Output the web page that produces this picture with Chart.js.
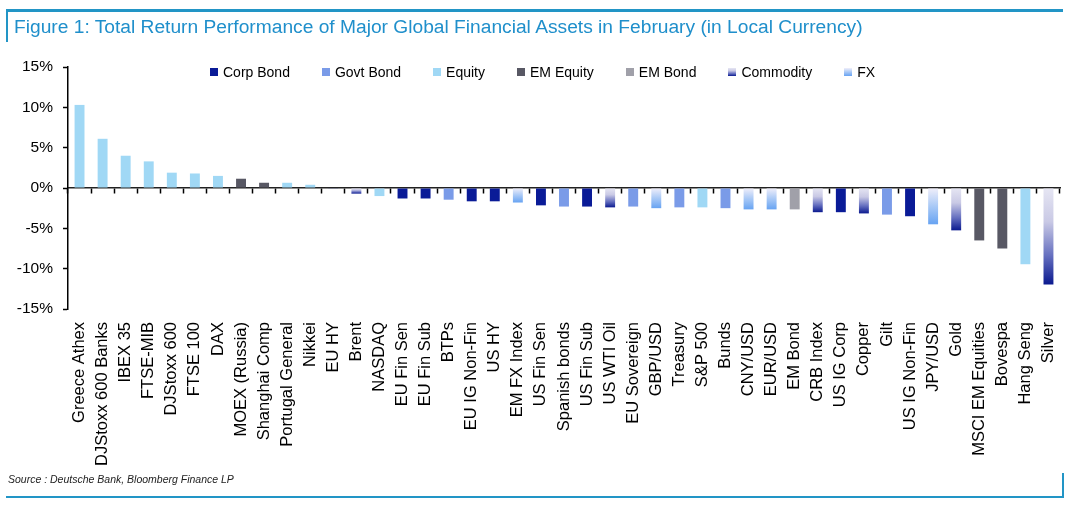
<!DOCTYPE html>
<html>
<head>
<meta charset="utf-8">
<script src="https://cdn.jsdelivr.net/npm/chart.js@4/dist/chart.umd.min.js"></script>
<style>
  body { margin: 0; background: #fff; font-family: "Liberation Sans", Arial, sans-serif; }
  #wrap { position: relative; width: 1078px; height: 506px; overflow: hidden; }
  #myChart { position: absolute; left: 0; top: 0; }
  .line { position: absolute; background: #2295c6; }
  #title { position: absolute; left: 14px; top: 16px; font-size: 19.2px; line-height: 22px; color: #1f8fcb; white-space: nowrap; }
  #source { position: absolute; left: 8px; top: 473px; font-size: 10.5px; line-height: 12px; font-style: italic; color: #222; }
  #legend { position: absolute; left: 210px; top: 63px; display: flex; gap: 32px; font-size: 14px; line-height: 18px; color: #000; }
  #legend span.item { display: flex; align-items: center; }
  #legend span.box { display: inline-block; width: 8px; height: 8px; margin-right: 5px; }
</style>
</head>
<body>
<div id="wrap">
  <canvas id="myChart" width="1078" height="506"></canvas>
  <div class="line" style="left:6px;top:9px;width:1057px;height:2.5px"></div>
  <div class="line" style="left:6px;top:9px;width:2px;height:33px"></div>
  <div class="line" style="left:6px;top:495.5px;width:1058px;height:2.5px"></div>
  <div class="line" style="left:1062px;top:473px;width:2px;height:25px"></div>
  <div id="title">Figure 1: Total Return Performance of Major Global Financial Assets in February (in Local Currency)</div>
  <div id="legend"></div>
  <div id="source">Source : Deutsche Bank, Bloomberg Finance LP</div>
</div>
<script>
// data (% total return, February)
var categories = ['Greece Athex', 'DJStoxx 600 Banks', 'IBEX 35', 'FTSE-MIB', 'DJStoxx 600', 'FTSE 100', 'DAX',
    'MOEX (Russia)', 'Shanghai Comp', 'Portugal General', 'Nikkei', 'EU HY', 'Brent', 'NASDAQ', 'EU Fin Sen',
    'EU Fin Sub', 'BTPs', 'EU IG Non-Fin', 'US HY', 'EM FX Index', 'US Fin Sen', 'Spanish bonds', 'US Fin Sub',
    'US WTI Oil', 'EU Sovereign', 'GBP/USD', 'Treasury', 'S&P 500', 'Bunds', 'CNY/USD', 'EUR/USD', 'EM Bond',
    'CRB Index', 'US IG Corp', 'Copper', 'Gilt', 'US IG Non-Fin', 'JPY/USD', 'Gold', 'MSCI EM Equities',
    'Bovespa', 'Hang Seng', 'Silver'];
var returns = [10.3, 6.1, 4.0, 3.3, 1.9, 1.8, 1.5,
    1.15, 0.65, 0.65, 0.4, -0.05, -0.7, -1.0, -1.3,
    -1.3, -1.45, -1.65, -1.65, -1.8, -2.15, -2.3, -2.3,
    -2.4, -2.3, -2.5, -2.4, -2.4, -2.5, -2.65, -2.65, -2.65,
    -3.0, -3.0, -3.15, -3.3, -3.5, -4.5, -5.25, -6.5,
    -7.5, -9.45, -11.95];
var assetTypes = ['Equity', 'Equity', 'Equity', 'Equity', 'Equity', 'Equity', 'Equity',
    'EM Equity', 'EM Equity', 'Equity', 'Equity', 'Corp Bond', 'Commodity', 'Equity', 'Corp Bond',
    'Corp Bond', 'Govt Bond', 'Corp Bond', 'Corp Bond', 'FX', 'Corp Bond', 'Govt Bond', 'Corp Bond',
    'Commodity', 'Govt Bond', 'FX', 'Govt Bond', 'Equity', 'Govt Bond', 'FX', 'FX', 'EM Bond',
    'Commodity', 'Corp Bond', 'Commodity', 'Govt Bond', 'Corp Bond', 'FX', 'Commodity', 'EM Equity',
    'EM Equity', 'Equity', 'Commodity'];
var typeNames = ['Corp Bond', 'Govt Bond', 'Equity', 'EM Equity', 'EM Bond', 'Commodity', 'FX'];
var yTicks = [15, 10, 5, 0, -5, -10, -15];

var solidColors = {
    'Corp Bond': '#0a1b97',
    'Govt Bond': '#7a9be8',
    'Equity': '#a0d8f5',
    'EM Equity': '#585864',
    'EM Bond': '#a0a0a9'
};
var gradStops = {
    'Commodity': [[0, '#e6e6f3'], [0.35, '#c9c9e5'], [0.7, '#6670c0'], [1, '#0b1a8f']],
    'FX': [[0, '#f1effa'], [0.5, '#a9c9f6'], [1, '#67a3f2']]
};

// legend in html
var legendDiv = document.getElementById('legend');
typeNames.forEach(function(t) {
    var bg = solidColors[t] ? solidColors[t] :
        'linear-gradient(to bottom,' + gradStops[t].map(function(s) { return s[1] + ' ' + (s[0] * 100) + '%'; }).join(',') + ')';
    legendDiv.innerHTML += '<span class="item"><span class="box" style="background:' + bg + '"></span>' + t + '</span>';
});

function barColor(c) {
    var t = assetTypes[c.dataIndex];
    if (solidColors[t]) return solidColors[t];
    var chart = c.chart;
    if (!chart.chartArea || !chart.scales.y) return gradStops[t][1][1];
    var y = chart.scales.y;
    var y0 = y.getPixelForValue(0);
    var y1 = y.getPixelForValue(returns[c.dataIndex]);
    if (Math.abs(y1 - y0) < 1) y1 = y0 + 1;
    var g = chart.ctx.createLinearGradient(0, y0, 0, y1);
    gradStops[t].forEach(function(s) { g.addColorStop(s[0], s[1]); });
    return g;
}

const ctx = document.getElementById('myChart');
const myChart = new Chart(ctx, {
    type: 'bar',
    data: {
        labels: categories,
        datasets: [{
            label: 'Total return',
            data: returns,
            backgroundColor: barColor,
            borderWidth: 0,
            categoryPercentage: 1.0,
            barPercentage: 0.43
        }]
    },
    options: {
        responsive: false,
        animation: false,
        layout: { padding: { top: 67, right: 18, left: 0, bottom: 0 } },
        plugins: {
            legend: { display: false },
            tooltip: { enabled: false }
        },
        scales: {
            x: {
                position: 'bottom',
                grid: { display: false },
                border: { display: false },
                ticks: {
                    autoSkip: false,
                    maxRotation: 90,
                    minRotation: 90,
                    padding: 5,
                    color: '#000',
                    font: { family: '"Liberation Sans", Arial', size: 16.5 }
                },
                afterFit: function(s) { s.height = 197; }
            },
            x0: {
                type: 'category',
                position: { y: 0 },
                offset: true,
                grid: { offset: true, drawOnChartArea: false, drawTicks: true, tickLength: 5, tickWidth: 1.5, color: '#000' },
                border: { display: true, color: '#222', width: 1.5 },
                ticks: { display: false },
                afterFit: function(s) { s.height = 0; }
            },
            y: {
                min: -15,
                max: 15,
                afterBuildTicks: function(s) { s.ticks = yTicks.map(function(v) { return { value: v }; }); },
                grid: { drawOnChartArea: false, drawTicks: true, tickLength: 5, tickWidth: 1.5, color: '#000' },
                border: { display: true, color: '#000', width: 1.5 },
                ticks: {
                    padding: 10,
                    color: '#000',
                    font: { family: '"Liberation Sans", Arial', size: 15.5 },
                    callback: function(v) { return v + '%'; }
                },
                afterFit: function(s) { s.width = 68; }
            }
        }
    }
});
</script>
</body>
</html>
